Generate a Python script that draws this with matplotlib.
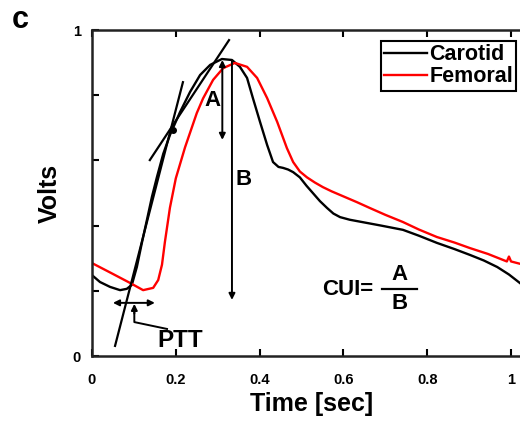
import numpy as np
import matplotlib
matplotlib.use("Agg")
import matplotlib.pyplot as plt

plt.rcParams['font.family'] = ['Liberation Sans', 'DejaVu Sans']
plt.rcParams['font.weight'] = 'bold'

# carotid pulse (black)
carotid_t = [0, 0.019, 0.043, 0.067, 0.083, 0.095, 0.107, 0.119, 0.131, 0.143, 0.155,
             0.17, 0.186, 0.21, 0.234, 0.258, 0.282, 0.31, 0.334, 0.353, 0.37, 0.384,
             0.401, 0.418, 0.432, 0.445, 0.456, 0.468, 0.48, 0.496, 0.512, 0.527, 0.544,
             0.561, 0.576, 0.592, 0.615, 0.64, 0.69, 0.742, 0.78, 0.823, 0.865, 0.902,
             0.935, 0.967, 0.995, 1.021]
carotid_v = [0.248, 0.227, 0.212, 0.202, 0.206, 0.218, 0.273, 0.347, 0.417, 0.488, 0.549,
             0.62, 0.678, 0.748, 0.810, 0.862, 0.893, 0.911, 0.908, 0.887, 0.853, 0.791,
             0.718, 0.647, 0.595, 0.58, 0.577, 0.572, 0.564, 0.548, 0.522, 0.500, 0.475,
             0.454, 0.437, 0.426, 0.418, 0.412, 0.400, 0.387, 0.369, 0.347, 0.328, 0.310,
             0.293, 0.273, 0.25, 0.224]

# femoral pulse (red)
femoral_t = [0, 0.045, 0.091, 0.122, 0.146, 0.158, 0.167, 0.174, 0.186, 0.2, 0.222,
             0.234, 0.25, 0.265, 0.289, 0.313, 0.341, 0.37, 0.394, 0.418, 0.442, 0.465,
             0.48, 0.496, 0.513, 0.532, 0.551, 0.572, 0.592, 0.632, 0.663, 0.70, 0.742,
             0.78, 0.823, 0.865, 0.902, 0.945, 0.99, 0.995, 1.0, 1.021]
femoral_v = [0.285, 0.255, 0.224, 0.202, 0.209, 0.233, 0.28, 0.35, 0.455, 0.545, 0.64,
             0.685, 0.745, 0.79, 0.847, 0.883, 0.899, 0.887, 0.853, 0.791, 0.718, 0.638,
             0.595, 0.566, 0.548, 0.532, 0.518, 0.505, 0.494, 0.472, 0.454, 0.433, 0.411,
             0.388, 0.365, 0.348, 0.331, 0.313, 0.29, 0.305, 0.29, 0.283]

# tangent lines
tan1_t = [0.055, 0.217]
tan1_v = [0.031, 0.840]
tan2_t = [0.138, 0.327]
tan2_v = [0.601, 0.969]
dot_t, dot_v = 0.193, 0.693

xticks = [0, 0.2, 0.4, 0.6, 0.8, 1]
xticklabels = ['0', '0.2', '0.4', '0.6', '0.8', '1']
yticks = [0, 0.2, 0.4, 0.6, 0.8, 1]
yticklabels = ['0', '', '', '', '', '1']

fig = plt.figure(figsize=(5.2, 4.25), dpi=100)
ax = fig.add_axes([92/520, 69/425, 440/520, 326/425])

ax.plot(carotid_t, carotid_v, color='black', lw=1.7, label='Carotid')
ax.plot(femoral_t, femoral_v, color='red', lw=1.7, label='Femoral')

ax.plot(tan1_t, tan1_v, color='black', lw=1.6)
ax.plot(tan2_t, tan2_v, color='black', lw=1.6)
ax.plot(dot_t, dot_v, 'o', color='black', ms=4)

# A and B arrows
arr = dict(arrowstyle='<|-|>', color='black', lw=1.4, mutation_scale=9, shrinkA=0, shrinkB=0)
ax.annotate('', xy=(0.311, 0.663), xytext=(0.311, 0.908), arrowprops=arr)
ax.annotate('', xy=(0.334, 0.172), xytext=(0.334, 0.905),
            arrowprops=dict(arrowstyle='-|>', color='black', lw=1.4, mutation_scale=9,
                            shrinkA=0, shrinkB=0))
ax.text(0.287, 0.785, 'A', fontsize=16, fontweight='bold', ha='center', va='center')
ax.text(0.362, 0.54, 'B', fontsize=16, fontweight='bold', ha='center', va='center')

# PTT
ax.annotate('', xy=(0.05, 0.163), xytext=(0.15, 0.163), arrowprops=arr)
ax.plot([0.179, 0.101, 0.101], [0.083, 0.104, 0.135], color='black', lw=1.4)
ax.annotate('', xy=(0.101, 0.16), xytext=(0.101, 0.13),
            arrowprops=dict(arrowstyle='-|>', color='black', lw=1.4, mutation_scale=9,
                            shrinkA=0, shrinkB=0))
ax.text(0.211, 0.048, 'PTT', fontsize=17.5, fontweight='bold', ha='center', va='center')

# CUI = A/B
ax.text(0.61, 0.204, 'CUI=', fontsize=16, fontweight='bold', ha='center', va='center')
ax.plot([0.692, 0.776], [0.206, 0.206], color='black', lw=1.6)
ax.text(0.734, 0.25, 'A', fontsize=16, fontweight='bold', ha='center', va='center')
ax.text(0.734, 0.16, 'B', fontsize=16, fontweight='bold', ha='center', va='center')

ax.set_xlim(0, 1.05)
ax.set_ylim(0, 1)
ax.set_xticks(xticks)
ax.set_xticklabels(xticklabels)
ax.set_yticks(yticks)
ax.set_yticklabels(yticklabels)
ax.tick_params(direction='in', length=5, width=1.5, labelsize=10.5, top=True, right=True, pad=12)
ax.tick_params(axis='y', pad=8)
for s in ax.spines.values():
    s.set_linewidth(1.8)
    s.set_color('#222222')

ax.set_xlabel('Time [sec]', fontsize=18, fontweight='bold', labelpad=4)
ax.set_ylabel('Volts', fontsize=18, fontweight='bold', labelpad=8)

leg = fig.legend(loc='upper left', bbox_to_anchor=(381/520, 1 - 41/425), borderaxespad=0,
                 fontsize=15.5, handlelength=2.0, handletextpad=0.1, fancybox=False,
                 framealpha=1, edgecolor='black', borderpad=0.15, labelspacing=0.05)
leg.get_frame().set_linewidth(1.5)
for t in leg.get_texts():
    t.set_fontweight('bold')

fig.text(20/520, 1 - 20/425, 'c', fontsize=22, fontweight='bold', ha='center', va='center')

fig.savefig('out.png', dpi=100)
